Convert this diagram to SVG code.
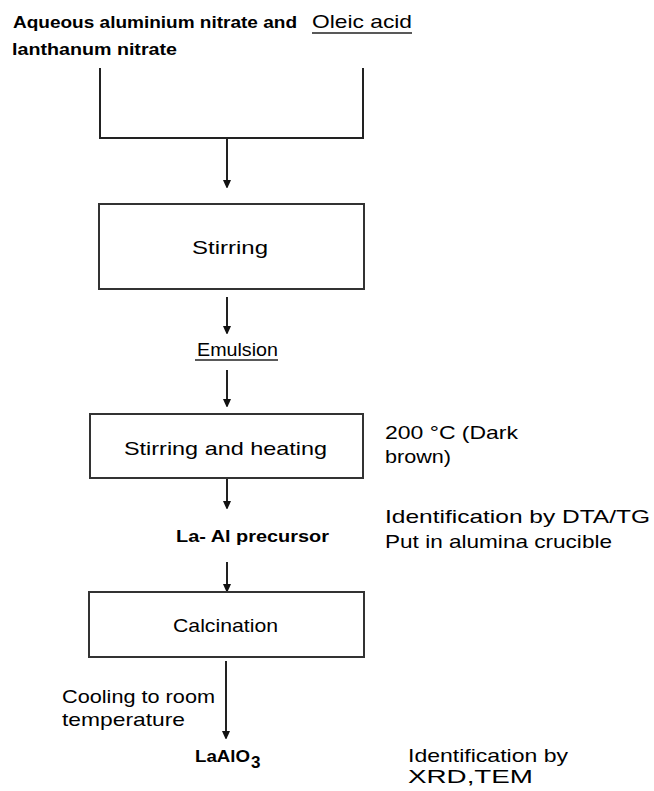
<svg xmlns="http://www.w3.org/2000/svg" width="654" height="791" viewBox="0 0 654 791">
<style>
.t{font-family:"Liberation Sans",Arial,sans-serif;font-size:19px;fill:#000}
.b{font-family:"Liberation Sans",Arial,sans-serif;font-size:17px;font-weight:bold;fill:#000}
.box{fill:#fff;stroke:#333;stroke-width:2}
.ln{fill:none;stroke:#222;stroke-width:2}
</style>
<defs>
<marker id="ah" markerWidth="8" markerHeight="11" refX="7" refY="5.5" orient="auto" markerUnits="userSpaceOnUse">
<path d="M0,1.5 L9,5.5 L0,9.5 Z" fill="#111"/>
</marker>
</defs>
<rect width="654" height="791" fill="#fff"/>
<g id="inputs">
<text class="b" x="13" y="28" textLength="284" lengthAdjust="spacingAndGlyphs">Aqueous aluminium nitrate and</text>
<text class="b" x="12" y="55" textLength="165" lengthAdjust="spacingAndGlyphs">lanthanum nitrate</text>
<text class="t" x="312" y="28" textLength="100" lengthAdjust="spacingAndGlyphs">Oleic acid</text>
<line x1="312" y1="33" x2="412" y2="33" stroke="#222" stroke-width="1.5"/>
</g>
<g id="connectors">
<path class="ln" d="M100,68 V138 H363 V68"/>
<line class="ln" x1="227" y1="138" x2="227" y2="187" marker-end="url(#ah)"/>
<line class="ln" x1="227" y1="297" x2="227" y2="333" marker-end="url(#ah)"/>
<line class="ln" x1="227" y1="370" x2="227" y2="406" marker-end="url(#ah)"/>
<line class="ln" x1="227" y1="478" x2="227" y2="508" marker-end="url(#ah)"/>
<line class="ln" x1="227" y1="562" x2="227" y2="591" marker-end="url(#ah)"/>
<line class="ln" x1="226" y1="661" x2="226" y2="738" marker-end="url(#ah)"/>
</g>
<g id="stirring">
<rect class="box" x="99" y="204" width="265" height="85"/>
<text class="t" x="192" y="254" textLength="76" lengthAdjust="spacingAndGlyphs">Stirring</text>
</g>
<g id="emulsion">
<text class="t" x="197" y="356" textLength="81" lengthAdjust="spacingAndGlyphs">Emulsion</text>
<line x1="195" y1="360" x2="278" y2="360" stroke="#222" stroke-width="1.5"/>
</g>
<g id="stirring-heating">
<rect class="box" x="90" y="414" width="273" height="64"/>
<text class="t" x="124" y="455" textLength="203" lengthAdjust="spacingAndGlyphs">Stirring and heating</text>
</g>
<g id="note-200">
<text class="t" x="385" y="439" textLength="133" lengthAdjust="spacingAndGlyphs">200 °C (Dark</text>
<text class="t" x="385" y="463" textLength="66" lengthAdjust="spacingAndGlyphs">brown)</text>
</g>
<g id="precursor">
<text class="b" x="176" y="542" textLength="153" lengthAdjust="spacingAndGlyphs">La- Al precursor</text>
</g>
<g id="note-dta">
<text class="t" x="385" y="523" textLength="265" lengthAdjust="spacingAndGlyphs">Identification by DTA/TG</text>
<text class="t" x="385" y="548" textLength="227" lengthAdjust="spacingAndGlyphs">Put in alumina crucible</text>
</g>
<g id="calcination">
<rect class="box" x="89" y="592" width="275" height="65"/>
<text class="t" x="173" y="632" textLength="105" lengthAdjust="spacingAndGlyphs">Calcination</text>
</g>
<g id="note-cooling">
<text class="t" x="62" y="703" textLength="153" lengthAdjust="spacingAndGlyphs">Cooling to room</text>
<text class="t" x="62" y="726" textLength="123" lengthAdjust="spacingAndGlyphs">temperature</text>
</g>
<g id="product">
<text class="b" x="195" y="762" font-size="18" textLength="55" lengthAdjust="spacingAndGlyphs">LaAlO</text>
<text class="b" x="251" y="768" font-size="16">3</text>
</g>
<g id="note-xrd">
<text class="t" x="408" y="762" textLength="160" lengthAdjust="spacingAndGlyphs">Identification by</text>
<text class="t" x="408" y="783" textLength="125" lengthAdjust="spacingAndGlyphs">XRD,TEM</text>
</g>
</svg>
